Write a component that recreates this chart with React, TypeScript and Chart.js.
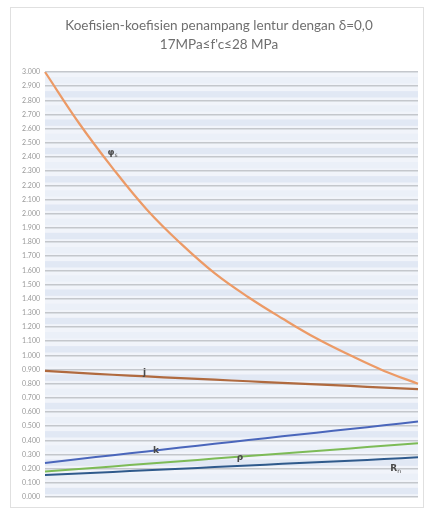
import React, { useEffect, useRef } from "react";
import { Chart, registerables } from "chart.js";

Chart.register(...registerables);

const fcLabels = ["17", "18", "19", "20", "21", "22", "23", "24", "25", "26", "27", "28"];
const phiValues = [3.0, 2.64, 2.32, 2.03, 1.79, 1.58, 1.41, 1.26, 1.12, 1.0, 0.89, 0.8];
const jValues = [0.89, 0.876, 0.863, 0.851, 0.839, 0.828, 0.817, 0.806, 0.795, 0.784, 0.772, 0.762];
const kValues = [0.24, 0.268, 0.295, 0.322, 0.349, 0.376, 0.402, 0.428, 0.454, 0.48, 0.506, 0.533];
const rhoValues = [0.18, 0.198, 0.216, 0.235, 0.253, 0.271, 0.289, 0.307, 0.325, 0.343, 0.362, 0.38];
const rnValues = [0.155, 0.166, 0.177, 0.189, 0.2, 0.211, 0.222, 0.234, 0.245, 0.256, 0.268, 0.28];

const titleLines = ["Koefisien-koefisien penampang lentur dengan δ=0,0", "17MPa≤f'c≤28 MPa"];

// series labels: [main, subscript, x position (category units), y value]
const seriesLabels: [string, string, number, number][] = [
  ["φ", "s", 1.93, 2.43],
  ["j", "", 2.98, 0.88],
  ["k", "", 3.27, 0.33],
  ["ρ", "", 5.74, 0.28],
  ["R", "n", 10.27, 0.2],
];

export default function App() {
  const ref = useRef<HTMLCanvasElement | null>(null);

  useEffect(() => {
    document.body.style.margin = "0";
    const canvas = ref.current;
    if (!canvas) return;

    const bgPlugin = {
      id: "bgPlugin",
      beforeDraw(chart: any) {
        const { ctx, width, height } = chart;
        ctx.save();
        ctx.fillStyle = "#ffffff";
        ctx.fillRect(0, 0, width, height);
        ctx.strokeStyle = "#e0e0e0";
        ctx.lineWidth = 1;
        ctx.strokeRect(10.5, 7.5, width - 12, height - 9);
        ctx.fillStyle = "#6f6f6f";
        ctx.font = "13.5px Lato, 'Open Sans', sans-serif";
        ctx.textAlign = "center";
        ctx.textBaseline = "middle";
        ctx.fillText(titleLines[0], 219, 26);
        ctx.fillText(titleLines[1], 219, 45);
        ctx.restore();
      },
    };

    const gridBandPlugin = {
      id: "gridBandPlugin",
      beforeDraw(chart: any) {
        const { ctx, chartArea, scales } = chart;
        const y = scales.y;
        ctx.save();
        ctx.fillStyle = "#f1f4fa";
        ctx.fillRect(chartArea.left, chartArea.top, chartArea.right - chartArea.left, chartArea.bottom - chartArea.top);
        for (let i = 0; i < 30; i++) {
          const top = y.getPixelForValue((i + 1) / 10);
          const bottom = y.getPixelForValue(i / 10);
          ctx.fillStyle = i % 2 === 0 ? "#e1e8f4" : "#ebf0f8";
          ctx.fillRect(chartArea.left, top + (bottom - top) * 0.35, chartArea.right - chartArea.left, (bottom - top) * 0.45);
        }
        ctx.restore();
      },
    };

    const labelPlugin = {
      id: "labelPlugin",
      afterDatasetsDraw(chart: any) {
        const { ctx, scales } = chart;
        ctx.save();
        ctx.fillStyle = "#4a4a4a";
        ctx.textBaseline = "middle";
        ctx.textAlign = "left";
        for (const [main, sub, xv, yv] of seriesLabels) {
          const px = scales.x.getPixelForValue(xv);
          const py = scales.y.getPixelForValue(yv);
          ctx.font = "bold 9px 'DejaVu Sans', sans-serif";
          ctx.fillText(main, px - 3, py);
          if (sub) {
            const w = ctx.measureText(main).width;
            ctx.font = "6px 'DejaVu Sans', sans-serif";
            ctx.fillText(sub, px - 3 + w, py + 3);
          }
        }
        ctx.restore();
      },
    };

    const mk = (label: string, data: number[], color: string, width: number) => ({
      label,
      data,
      borderColor: color,
      backgroundColor: color,
      borderWidth: width,
      pointRadius: 0,
      tension: 0.4,
      fill: false,
    });

    const chart = new Chart(canvas, {
      type: "line",
      data: {
        labels: fcLabels,
        datasets: [
          mk("φs", phiValues, "#ec9a66", 2.2),
          mk("j", jValues, "#b06a3f", 2.2),
          mk("k", kValues, "#4a66bb", 2),
          mk("ρ", rhoValues, "#7dbb57", 2),
          mk("Rn", rnValues, "#2f5a8c", 2),
        ],
      },
      options: {
        animation: false,
        responsive: false,
        maintainAspectRatio: false,
        layout: { padding: { top: 72, bottom: 12, left: 0, right: 7 } },
        plugins: {
          legend: { display: false },
          title: { display: false },
          tooltip: { enabled: false },
        },
        scales: {
          x: {
            display: false,
            offset: false,
            grid: { display: false },
          },
          y: {
            min: 0,
            max: 3,
            afterFit(scale: any) {
              scale.width = 45;
            },
            border: { display: false },
            grid: { color: "#c4c7cc", lineWidth: 1.4, drawTicks: false },
            ticks: {
              stepSize: 0.1,
              autoSkip: false,
              padding: 5,
              color: "#999999",
              font: { size: 7, family: "Lato, 'Open Sans', sans-serif" },
              callback: (v: any) => Number(v).toFixed(3),
            },
          },
        },
      },
      plugins: [bgPlugin, gridBandPlugin, labelPlugin],
    });

    return () => chart.destroy();
  }, []);

  return <canvas ref={ref} width={425} height={509} style={{ display: "block" }} />;
}
